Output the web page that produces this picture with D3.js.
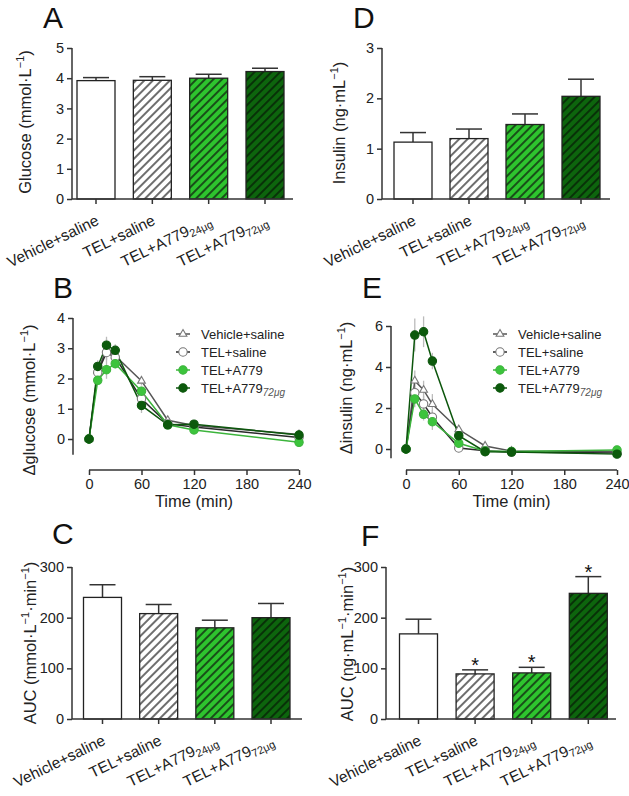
<!DOCTYPE html>
<html><head><meta charset="utf-8">
<script src="https://cdn.jsdelivr.net/npm/d3@7"></script>
<style>body{margin:0;background:#fff;} svg{display:block;font-family:"Liberation Sans",Arial,Helvetica,sans-serif;}</style>
</head><body><svg id="c" width="629" height="796"></svg>
<script>
// ---------- DATA ----------
const barCategories = ["Vehicle+saline", "TEL+saline", "TEL+A779", "TEL+A779"];
const barSubscripts = ["", "", "24μg", "72μg"];

const glucoseMean = [3.92, 3.93, 4.00, 4.22];
const glucoseSem  = [0.10, 0.12, 0.13, 0.11];
const glucoseTicks = [0, 1, 2, 3, 4, 5];

const insulinMean = [1.13, 1.20, 1.48, 2.04];
const insulinSem  = [0.19, 0.19, 0.21, 0.34];
const insulinTicks = [0, 1, 2, 3];

const aucGlucoseMean = [240, 208, 180, 200];
const aucGlucoseSem  = [25, 18, 15, 28];
const aucInsulinMean = [168, 89, 91, 248];
const aucInsulinSem  = [29, 8, 11, 33];
const aucInsulinSig  = [false, true, true, true];
const aucTicks = [0, 100, 200, 300];

const timePoints = [0, 10, 20, 30, 60, 90, 120, 240];
const timeTicks = [0, 60, 120, 180, 240];
const seriesNames = ["Vehicle+saline", "TEL+saline", "TEL+A779", "TEL+A779"];
const seriesSubs  = ["", "", "", "72μg"];

const dGlucoseVehicle = [0, 2.25, 2.98, 2.75, 1.92, 0.62, 0.45, 0.15];
const dGlucoseTel     = [0, 2.20, 2.86, 2.70, 1.33, 0.50, 0.40, 0.05];
const dGlucoseA24     = [0, 1.94, 2.29, 2.49, 1.58, 0.47, 0.30, -0.11];
const dGlucoseA72     = [0, 2.40, 3.10, 2.93, 1.11, 0.47, 0.49, 0.13];
const dGlucoseVehicleSem = [0.05, 0.20, 0.40, 0.25, 0.15, 0.10, 0.08, 0.10];
const dGlucoseTelSem     = [0.05, 0.20, 0.25, 0.20, 0.20, 0.08, 0.08, 0.08];
const dGlucoseA24Sem     = [0.05, 0.15, 0.30, 0.15, 0.15, 0.08, 0.08, 0.08];
const dGlucoseA72Sem     = [0.05, 0.20, 0.20, 0.20, 0.25, 0.10, 0.10, 0.10];
const dGlucoseTicks = [0, 1, 2, 3, 4];

const dInsulinVehicle = [0, 3.33, 2.88, 2.18, 0.95, 0.15, -0.10, -0.12];
const dInsulinTel     = [0, 2.75, 2.20, 1.55, 0.05, -0.08, -0.15, -0.20];
const dInsulinA24     = [0, 2.44, 1.69, 1.33, 0.28, -0.10, -0.12, -0.05];
const dInsulinA72     = [0, 5.56, 5.72, 4.29, 0.65, -0.13, -0.15, -0.25];
const dInsulinVehicleSem = [0.05, 0.50, 0.45, 0.50, 0.15, 0.05, 0.05, 0.05];
const dInsulinTelSem     = [0.05, 0.40, 0.40, 0.35, 0.10, 0.05, 0.05, 0.05];
const dInsulinA24Sem     = [0.05, 0.40, 0.30, 0.40, 0.10, 0.05, 0.05, 0.05];
const dInsulinA72Sem     = [0.05, 0.80, 0.75, 0.40, 0.15, 0.05, 0.05, 0.05];
const dInsulinTicks = [0, 2, 4, 6];

// ---------- STYLE ----------
const AX = "#333", TXT = "#222";
const svg = d3.select("#c");
const defs = svg.append("defs");
function hatch(id, bg, fg) {
  const p = defs.append("pattern").attr("id", id).attr("patternUnits", "userSpaceOnUse")
    .attr("width", 6).attr("height", 6).attr("patternTransform", "rotate(45)");
  p.append("rect").attr("width", 6).attr("height", 6).attr("fill", bg);
  p.append("line").attr("x1", 3).attr("y1", 0).attr("x2", 3).attr("y2", 6)
    .attr("stroke", fg).attr("stroke-width", 1.7);
}
hatch("hW", "#ffffff", "#555");
hatch("hL", "#2ec42e", "#143a14");
hatch("hD", "#0d650d", "#062806");
const barFills = ["#ffffff", "url(#hW)", "url(#hL)", "url(#hD)"];

function panelLetter(t, x, y) {
  svg.append("text").attr("x", x).attr("y", y).attr("font-size", 30).attr("fill", "#111").text(t);
}
function yLabel(x, yc, parts) {
  const t = svg.append("text").attr("transform", `translate(${x},${yc}) rotate(-90)`)
    .attr("text-anchor", "middle").attr("font-size", 16.5).attr("fill", TXT);
  parts.forEach(p => {
    const s = t.append("tspan").text(p.t);
    if (p.sup) s.attr("font-size", 11).attr("dy", -7);
    if (p.down) s.attr("dy", 7);
  });
}

function barPanel(o) {
  const y = d3.scaleLinear().domain([0, o.max]).range([o.y0, o.y1]);
  const x = d3.scalePoint().domain(d3.range(4)).range([o.c0, o.c1]);
  const g = svg.append("g");
  const bw = 38;
  o.mean.forEach((v, i) => {
    const cx = x(i);
    g.append("line").attr("x1", cx).attr("x2", cx).attr("y1", y(v)).attr("y2", y(v + o.sem[i]))
      .attr("stroke", AX).attr("stroke-width", 1.5);
    g.append("line").attr("x1", cx - 13).attr("x2", cx + 13).attr("y1", y(v + o.sem[i])).attr("y2", y(v + o.sem[i]))
      .attr("stroke", AX).attr("stroke-width", 1.5);
    g.append("rect").attr("x", cx - bw / 2).attr("y", y(v)).attr("width", bw).attr("height", y(0) - y(v))
      .attr("fill", barFills[i]).attr("stroke", "#222").attr("stroke-width", 1.3);
    if (o.sig && o.sig[i]) {
      g.append("text").attr("x", cx).attr("y", y(v + o.sem[i]) + 2).attr("text-anchor", "middle")
        .attr("font-size", 20).attr("fill", "#111").text("*");
    }
  });
  const ya = g.append("g").attr("transform", `translate(${o.ax},0)`)
    .call(d3.axisLeft(y).tickValues(o.ticks).tickSize(5).tickPadding(3).tickFormat(d3.format("d")));
  ya.select(".domain").attr("d", `M0,${y(0)}V${y(o.max)}`);
  g.append("line").attr("x1", o.ax).attr("x2", o.xEnd).attr("y1", y(0)).attr("y2", y(0))
    .attr("stroke", AX).attr("stroke-width", 1.5);
  d3.range(4).forEach(i => {
    g.append("line").attr("x1", x(i)).attr("x2", x(i)).attr("y1", y(0)).attr("y2", y(0) + 5)
      .attr("stroke", AX).attr("stroke-width", 1.5);
    const t = g.append("text").attr("transform", `translate(${x(i) + 4},${y(0) + 25}) rotate(-26)`)
      .attr("text-anchor", "end").attr("font-size", 15.5).attr("fill", TXT).text(barCategories[i]);
    if (barSubscripts[i]) t.append("tspan").attr("font-size", 11).attr("dy", 3).text(barSubscripts[i]);
  });
  styleAxis(ya);
}
function styleAxis(a) {
  a.select(".domain").attr("stroke", AX).attr("stroke-width", 1.5);
  a.selectAll(".tick line").attr("stroke", AX).attr("stroke-width", 1.5);
  a.selectAll(".tick text").attr("font-size", 14.5).attr("fill", TXT).attr("font-family", "Liberation Sans, Arial, sans-serif");
}

const seriesStyle = [
  { line: "#555", fill: "#fff", stroke: "#777", shape: "tri" },
  { line: "#2a2a2a", fill: "#fff", stroke: "#777", shape: "circ" },
  { line: "#3cb43c", fill: "#3cc43c", stroke: "#3cb43c", shape: "circ" },
  { line: "#0c560c", fill: "#0c5a0c", stroke: "#0c560c", shape: "circ" }
];
function marker(g, cx, cy, st) {
  if (st.shape === "tri") {
    g.append("path").attr("d", d3.symbol().type(d3.symbolTriangle).size(26)())
      .attr("transform", `translate(${cx},${cy})`).attr("fill", st.fill).attr("stroke", st.stroke).attr("stroke-width", 1.1);
  } else {
    g.append("circle").attr("cx", cx).attr("cy", cy).attr("r", 4.2)
      .attr("fill", st.fill).attr("stroke", st.stroke).attr("stroke-width", 1.1);
  }
}
function linePanel(o) {
  const x = d3.scaleLinear().domain([0, 240]).range([o.x0, o.x1]);
  const y = d3.scaleLinear().domain([0, o.max]).range([o.yz, o.ytop]);
  const g = svg.append("g");
  o.series.forEach((s) => {
    s.v.forEach((v, i) => {
      g.append("line").attr("x1", x(timePoints[i])).attr("x2", x(timePoints[i]))
        .attr("y1", y(v - s.e[i])).attr("y2", y(v + s.e[i])).attr("stroke", "#bbb").attr("stroke-width", 1.3);
    });
  });
  const ln = d3.line().x((d, i) => x(timePoints[i])).y(d => y(d));
  o.series.forEach((s, k) => {
    g.append("path").attr("d", ln(s.v)).attr("fill", "none").attr("stroke", seriesStyle[k].line).attr("stroke-width", 1.5);
  });
  o.series.forEach((s, k) => {
    s.v.forEach((v, i) => marker(g, x(timePoints[i]), y(v), seriesStyle[k]));
  });
  const ya = g.append("g").attr("transform", `translate(${o.ax},0)`)
    .call(d3.axisLeft(y).tickValues(o.ticks).tickSize(5).tickPadding(3).tickFormat(d3.format("d")));
  ya.select(".domain").attr("d", `M0,${y(o.max)}V${y(o.min)}`);
  styleAxis(ya);
  const xa = g.append("g").attr("transform", `translate(0,${o.xy})`)
    .call(d3.axisBottom(x).tickValues(timeTicks).tickSize(5).tickPadding(4));
  xa.select(".domain").attr("d", `M${x(0)},0H${x(240)}`);
  styleAxis(xa);
  g.append("text").attr("x", (o.x0 + o.x1) / 2).attr("y", o.xy + 37).attr("text-anchor", "middle")
    .attr("font-size", 16.5).attr("fill", TXT).text("Time (min)");
  seriesNames.forEach((n, k) => {
    const ly = o.ly + k * 18;
    g.append("line").attr("x1", o.lx).attr("x2", o.lx + 14).attr("y1", ly).attr("y2", ly)
      .attr("stroke", seriesStyle[k].line).attr("stroke-width", 1.5);
    marker(g, o.lx + 7, ly, seriesStyle[k]);
    const t = g.append("text").attr("x", o.lx + 25).attr("y", ly + 5).attr("font-size", 13).attr("fill", TXT).text(n);
    if (seriesSubs[k]) t.append("tspan").attr("font-size", 10).attr("dy", 3).attr("font-style", "italic").attr("fill", "#555").text(seriesSubs[k]);
  });
}

// ---------- PANELS ----------
panelLetter("A", 43, 28);
panelLetter("D", 353, 28);
panelLetter("B", 53, 298);
panelLetter("E", 362, 298);
panelLetter("C", 52, 544);
panelLetter("F", 361, 546);

barPanel({ mean: glucoseMean, sem: glucoseSem, max: 5, ticks: glucoseTicks, y0: 199, y1: 48, c0: 96, c1: 265, ax: 72, xEnd: 293 });
yLabel(31, 122, [{ t: "Glucose (mmol·L" }, { t: "−1", sup: true }, { t: ")", down: true }]);

barPanel({ mean: insulinMean, sem: insulinSem, max: 3, ticks: insulinTicks, y0: 199, y1: 48, c0: 413, c1: 581, ax: 382, xEnd: 610 });
yLabel(345, 123, [{ t: "Insulin (ng·mL" }, { t: "−1", sup: true }, { t: ")", down: true }]);

barPanel({ mean: aucGlucoseMean, sem: aucGlucoseSem, max: 300, ticks: aucTicks, y0: 719, y1: 567, c0: 102.5, c1: 271, ax: 72, xEnd: 302 });
yLabel(36, 643, [{ t: "AUC (mmol·L" }, { t: "−1", sup: true }, { t: "·min", down: true }, { t: "−1", sup: true }, { t: ")", down: true }]);

barPanel({ mean: aucInsulinMean, sem: aucInsulinSem, sig: aucInsulinSig, max: 300, ticks: aucTicks, y0: 719, y1: 567, c0: 418.5, c1: 588.3, ax: 386, xEnd: 616 });
yLabel(353, 644, [{ t: "AUC (ng·mL" }, { t: "−1", sup: true }, { t: "·min", down: true }, { t: "−1", sup: true }, { t: ")", down: true }]);

linePanel({
  series: [
    { v: dGlucoseVehicle, e: dGlucoseVehicleSem },
    { v: dGlucoseTel, e: dGlucoseTelSem },
    { v: dGlucoseA24, e: dGlucoseA24Sem },
    { v: dGlucoseA72, e: dGlucoseA72Sem }
  ],
  max: 4, min: -0.52, ticks: dGlucoseTicks, yz: 439, ytop: 318, ax: 73, x0: 89, x1: 299, xy: 470, lx: 176, ly: 334
});
yLabel(35, 400, [{ t: "Δglucose (mmol·L" }, { t: "−1", sup: true }, { t: ")", down: true }]);

linePanel({
  series: [
    { v: dInsulinVehicle, e: dInsulinVehicleSem },
    { v: dInsulinTel, e: dInsulinTelSem },
    { v: dInsulinA24, e: dInsulinA24Sem },
    { v: dInsulinA72, e: dInsulinA72Sem }
  ],
  max: 6, min: -0.45, ticks: dInsulinTicks, yz: 449, ytop: 326, ax: 391, x0: 406, x1: 617, xy: 470, lx: 493, ly: 334
});
yLabel(352, 388, [{ t: "Δinsulin (ng·mL" }, { t: "−1", sup: true }, { t: ")", down: true }]);
</script>
</body></html>
